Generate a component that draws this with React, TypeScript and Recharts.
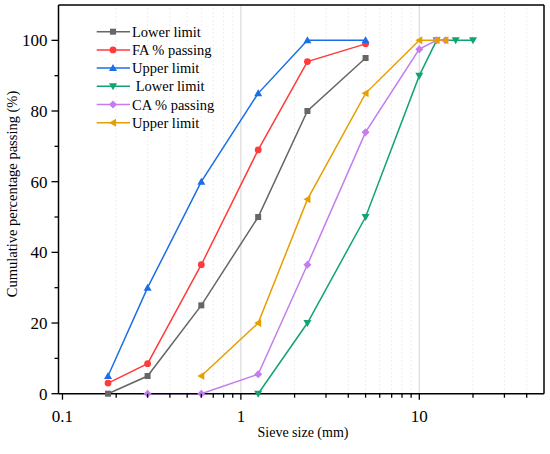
import React from "react";
import {
	LineChart,
	Line,
	XAxis,
	YAxis,
	ReferenceLine,
} from "recharts";

// sieve sizes (mm)
const sieveFA = [0.18, 0.3, 0.6, 1.25, 2.36, 5];
const faLower = [0, 5, 25, 50, 80, 95];
const faPassing = [3, 8.5, 36.5, 69, 94, 99];
const faUpper = [5, 30, 60, 85, 100, 100];

const sieveCALower = [1.25, 2.36, 5, 10, 12.5, 16, 20];
const caLower = [0, 20, 50, 90, 100, 100, 100];
const sieveCAPassing = [0.3, 0.6, 1.25, 2.36, 5, 10, 12.5, 14];
const caPassing = [0, 0, 5.5, 36.5, 74, 97.5, 100, 100];
const sieveCAUpper = [0.6, 1.25, 2.36, 5, 10, 12.5, 14];
const caUpper = [5, 20, 55, 85, 100, 100, 100];

const seriesNames = [
	"Lower limit",
	"FA % passing",
	"Upper limit",
	"\u00a0Lower limit",
	"CA % passing",
	"Upper limit",
];

const xMajor = [0.1, 1, 10];
const xMinor = [0.2, 0.3, 0.4, 0.5, 0.6, 0.7, 0.8, 0.9, 2, 3, 4, 5, 6, 7, 8, 9, 20, 30, 40];
const yTicks = [0, 10, 20, 30, 40, 50, 60, 70, 80, 90, 100];

const FONT = "Liberation Serif, Times New Roman, serif";
const txt = { fontFamily: FONT };

const styles = [
	{ color: "#666666", shape: "square" },
	{ color: "#ff3b3b", shape: "circle" },
	{ color: "#1a6fe8", shape: "up" },
	{ color: "#12a46e", shape: "down" },
	{ color: "#c47cf0", shape: "diamond" },
	{ color: "#e69f00", shape: "left" },
];

const toRows = (xs: number[], ys: number[]) =>
	xs.map((s, i) => ({ size: s, pct: ys[i] }));

const series = [
	toRows(sieveFA, faLower),
	toRows(sieveFA, faPassing),
	toRows(sieveFA, faUpper),
	toRows(sieveCALower, caLower),
	toRows(sieveCAPassing, caPassing),
	toRows(sieveCAUpper, caUpper),
];

const Marker = ({ shape, cx, cy, color }: any) => {
	switch (shape) {
		case "square":
			return <rect x={cx - 3} y={cy - 3} width={6} height={6} fill={color} />;
		case "circle":
			return <circle cx={cx} cy={cy} r={3.4} fill={color} />;
		case "up":
			return <polygon points={`${cx},${cy - 4} ${cx - 4},${cy + 3} ${cx + 4},${cy + 3}`} fill={color} />;
		case "down":
			return <polygon points={`${cx},${cy + 4} ${cx - 4},${cy - 3} ${cx + 4},${cy - 3}`} fill={color} />;
		case "diamond":
			return <polygon points={`${cx},${cy - 4} ${cx + 4},${cy} ${cx},${cy + 4} ${cx - 4},${cy}`} fill={color} />;
		default:
			return <polygon points={`${cx - 4},${cy} ${cx + 3},${cy - 4} ${cx + 3},${cy + 4}`} fill={color} />;
	}
};

const XTick = (props: any) => {
	const { x, y, payload } = props;
	const major = xMajor.includes(payload.value);
	return (
		<g>
			<line x1={x} x2={x} y1={y} y2={y + (major ? 6 : 4)} stroke="#000" strokeWidth={1.3} />
			{major && (
				<text x={x} y={y + 28} textAnchor="middle" fontSize={17} style={txt} fill="#000">
					{payload.value}
				</text>
			)}
		</g>
	);
};

const YTick = (props: any) => {
	const { x, y, payload } = props;
	const major = payload.value % 20 === 0;
	return (
		<g>
			<line x1={x} x2={x - (major ? 7 : 4)} y1={y} y2={y} stroke="#000" strokeWidth={1.3} />
			{major && (
				<text x={x - 11} y={y + 6} textAnchor="end" fontSize={17} style={txt} fill="#000">
					{payload.value}
				</text>
			)}
		</g>
	);
};

const LegendBox = () => (
	<svg
		width={200}
		height={120}
		style={{ position: "absolute", left: 90, top: 20, pointerEvents: "none" }}
	>
		{seriesNames.map((name, i) => {
			const cy = 11.7 + i * 18.2;
			const st = styles[i];
			return (
				<g key={i}>
					<line x1={6.7} x2={40} y1={cy} y2={cy} stroke={st.color} strokeWidth={1.5} />
					<Marker shape={st.shape} cx={23} cy={cy} color={st.color} />
					<text x={42} y={cy + 5} fontSize={14.5} style={txt} fill="#000">
						{name}
					</text>
				</g>
			);
		})}
	</svg>
);

export default function App() {
	return (
		<div style={{ position: "absolute", left: 0, top: 0, width: 550, height: 454, background: "#fff" }}>
			<LineChart
				width={550}
				height={454}
				margin={{ top: 5, right: 6, left: 0, bottom: 0 }}
			>
				<XAxis
					dataKey="size"
					type="number"
					scale="log"
					domain={[0.095, 50]}
					allowDataOverflow
					ticks={[...xMajor, ...xMinor]}
					interval={0}
					tickSize={0}
					tickMargin={0}
					tickLine={false}
					tick={<XTick />}
					axisLine={{ stroke: "#000", strokeWidth: 1.5 }}
					height={60.3}
					label={{
						content: () => (
							<text x={303} y={437} textAnchor="middle" fontSize={14} style={txt} fill="#000">
								Sieve size (mm)
							</text>
						),
					}}
				/>
				<YAxis
					type="number"
					domain={[0, 110]}
					ticks={yTicks}
					interval={0}
					tickSize={0}
					tickMargin={0}
					tickLine={false}
					tick={<YTick />}
					axisLine={{ stroke: "#000", strokeWidth: 1.5 }}
					width={58.5}
					label={{
						content: () => (
							<text
								x={12}
								y={194}
								transform="rotate(-90 12 194)"
								textAnchor="middle"
								dominantBaseline="central"
								fontSize={14.5}
								style={txt}
								fill="#000"
							>
								Cumulative percentage passing (%)
							</text>
						),
					}}
				/>
				{xMinor.map((v) => (
					<ReferenceLine key={`m${v}`} x={v} stroke="#e8e8e8" strokeDasharray="1.5 2.5" strokeWidth={1} />
				))}
				{xMajor.slice(1).map((v) => (
					<ReferenceLine key={`M${v}`} x={v} stroke="#dadada" strokeWidth={1.2} />
				))}
				<ReferenceLine y={110} stroke="#000" strokeWidth={1.5} />
				<ReferenceLine x={50} stroke="#000" strokeWidth={1.5} />
				{series.map((rows, i) => (
					<Line
						key={i}
						data={rows}
						dataKey="pct"
						type="linear"
						stroke={styles[i].color}
						strokeWidth={1.5}
						isAnimationActive={false}
						dot={(p: any) => (
							<Marker key={`d${i}-${p.index}`} shape={styles[i].shape} cx={p.cx} cy={p.cy} color={styles[i].color} />
						)}
						activeDot={false}
					/>
				))}
			</LineChart>
			<LegendBox />
		</div>
	);
}
